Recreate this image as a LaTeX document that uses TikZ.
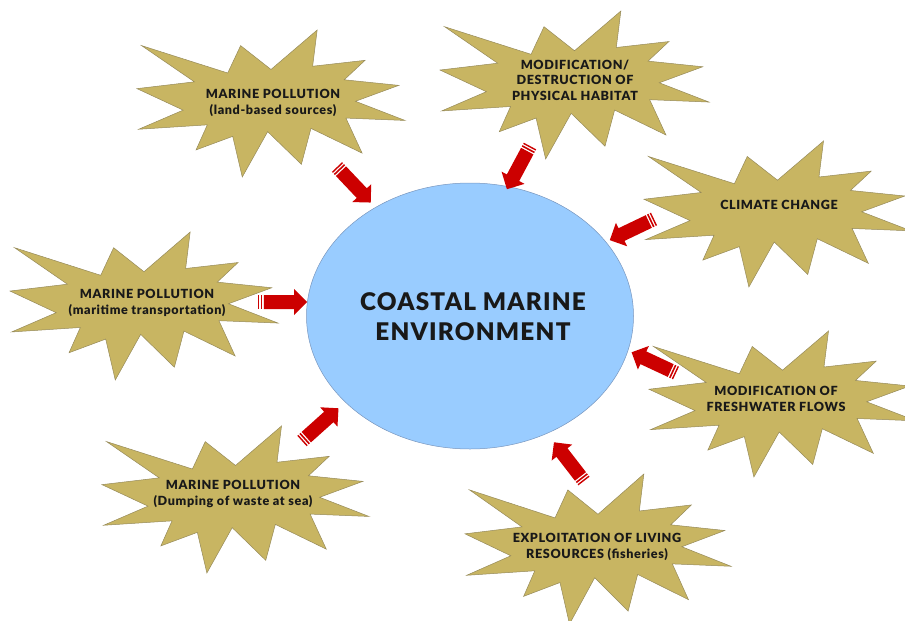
\documentclass[tikz,border=0pt]{standalone}
\usepackage{fontspec}
\setmainfont{Lato}[BoldFont={Lato Black}]
\usetikzlibrary{shapes.geometric}

\definecolor{sealfill}{RGB}{200,181,98}
\definecolor{sealline}{RGB}{150,138,90}
\definecolor{envfill}{RGB}{153,204,255}
\definecolor{envline}{RGB}{120,150,190}
\definecolor{arrowred}{RGB}{204,0,0}
\definecolor{inkdark}{RGB}{25,25,25}

\newfontfamily\labelfont{Lato}[BoldFont={Lato Black}, LetterSpace=5]

\tikzset{
  sealtext/.style={align=center, inner sep=0pt, text=inkdark,
    font=\labelfont\fontsize{12.6}{15.5}\selectfont\bfseries},
  envnode/.style={ellipse, draw=envline, line width=0.5pt, fill=envfill,
    minimum width=327pt, minimum height=266pt, inner sep=0pt},
  envtextstyle/.style={inner sep=0pt, align=center, text=inkdark,
    font=\labelfont\fontsize{24.3}{30}\selectfont\bfseries},
}

% Irregular explosion outline in a 216 x 216 box, drawn into the box
% with top-left corner (#1,#2), width #3 and height #4
\newcommand{\sealshape}[4]{%
  \pgfmathsetmacro\sealsx{#3/216}%
  \pgfmathsetmacro\sealsy{#4/216}%
  \begin{scope}[shift={(#1,#2)}, x=\sealsx pt, y=-\sealsy pt]
    \filldraw[fill=sealfill, draw=sealline, line width=0.5pt, line join=miter]
      (108,58) -- (145.22,0) -- (141.55,53.25) -- (183.80,44.57) --
      (167.02,73.15) -- (210.97,81.37) -- (176.07,104.75) -- (216,132.90) --
      (168.37,129.42) -- (181.45,180.95) -- (140.20,144.57) -- (132.47,197.37) --
      (105.32,149.35) -- (84.85,216) -- (77.15,156.27) -- (47.62,176.17) --
      (56.67,139.37) -- (1.35,145.87) -- (37.22,117.75) -- (0,86.15) --
      (46.27,76.17) -- (3.70,22.95) -- (73.12,63.20) -- (83.52,22.95) -- cycle;
  \end{scope}}

% Striped block arrow from coordinate #1 (tail) towards coordinate #2 (tip)
\newcommand{\stripedarrow}[2]{%
  \pgfmathanglebetweenpoints{\pgfpointanchor{#1}{center}}{\pgfpointanchor{#2}{center}}%
  \edef\sarrowangle{\pgfmathresult}%
  \begin{scope}[shift={(#1)}, rotate=\sarrowangle, x=1pt, y=1pt]
    \fill[arrowred] (0,-7) rectangle (1.4,7);
    \fill[arrowred] (2.8,-7) rectangle (4.4,7);
    \fill[arrowred] (5.8,-7) -- (36,-7) -- (36,-13) -- (49,0) -- (36,13) --
      (36,7) -- (5.8,7) -- cycle;
  \end{scope}}

\begin{document}
\begin{tikzpicture}[x=1pt, y=-1pt]
  \useasboundingbox (0,0) rectangle (905,621);

  % central environment
  \node[envnode] (env) at (470,316) {};
  \node[envtextstyle] (envtext) at (473,317) {COASTAL MARINE\\ENVIRONMENT};

  % pressures
  \sealshape{137}{30}{268}{147}
  \node[sealtext] (land) at (273,103) {MARINE POLLUTION\\(land-based sources)};

  \sealshape{440}{11}{269}{148}
  \node[sealtext] (habitat) at (575,80) {MODIFICATION/\\DESTRUCTION OF\\PHYSICAL HABITAT};

  \sealshape{644}{141}{267}{146}
  \node[sealtext] (climate) at (779,205) {CLIMATE CHANGE};

  \sealshape{10}{232}{268}{148}
  \node[sealtext] (maritime) at (147,303) {MARINE POLLUTION\\(maritime transportation)};

  \sealshape{649}{331}{267}{146}
  \node[sealtext] (fresh) at (776,399) {MODIFICATION OF\\FRESHWATER FLOWS};

  \sealshape{102}{426}{267}{147}
  \node[sealtext] (dumping) at (233,494) {MARINE POLLUTION\\(Dumping of waste at sea)};

  \sealshape{465}{474}{266}{150}
  \node[sealtext] (fish) at (597,547) {EXPLOITATION OF LIVING\\RESOURCES (fisheries)};

  % arrow ends
  \coordinate (a1t) at (337,167);  \coordinate (a1h) at (374,206);
  \coordinate (a2t) at (530,146);  \coordinate (a2h) at (507,189);
  \coordinate (a3t) at (654,219);  \coordinate (a3h) at (608,241);
  \coordinate (a4t) at (258,302);  \coordinate (a4h) at (307,302);
  \coordinate (a5t) at (676,373);  \coordinate (a5h) at (631,352);
  \coordinate (a6t) at (302,441);  \coordinate (a6h) at (341,406);
  \coordinate (a7t) at (584,481);  \coordinate (a7h) at (553,441);

  \stripedarrow{a1t}{a1h}
  \stripedarrow{a2t}{a2h}
  \stripedarrow{a3t}{a3h}
  \stripedarrow{a4t}{a4h}
  \stripedarrow{a5t}{a5h}
  \stripedarrow{a6t}{a6h}
  \stripedarrow{a7t}{a7h}
\end{tikzpicture}
\end{document}
